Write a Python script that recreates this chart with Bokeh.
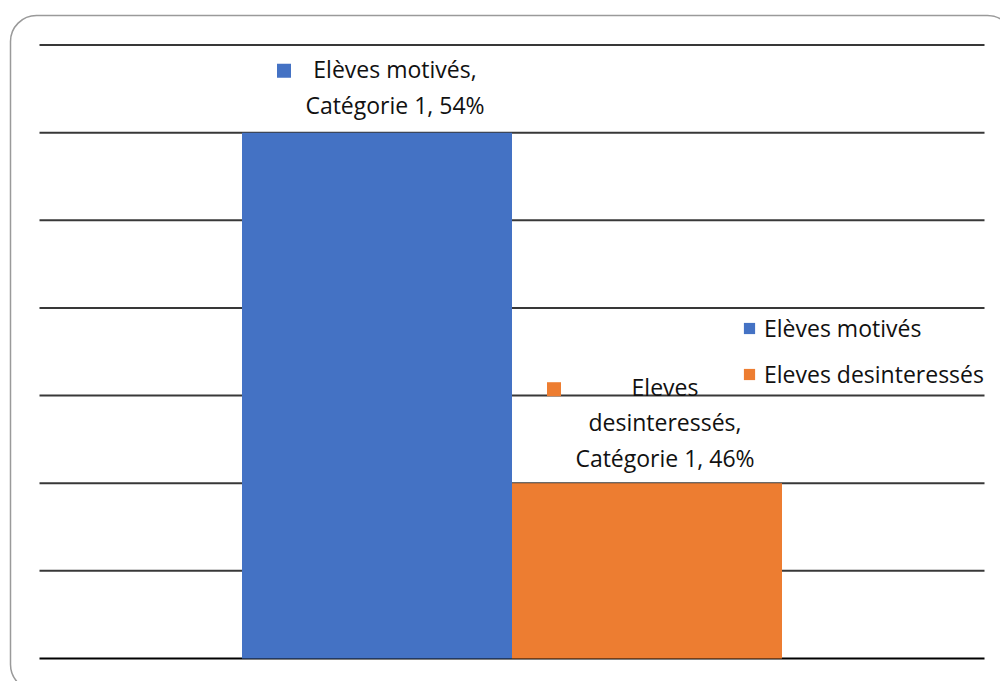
from bokeh.plotting import figure
from bokeh.models import (Range1d, Legend, LegendItem, ColumnDataSource, BoxAnnotation)
from bokeh.transform import dodge
from bokeh.core.properties import value
from bokeh.embed import file_html
from bokeh.resources import INLINE

# ---- data ----
categories = ["Catégorie 1"]
series_names = ["Elèves motivés", "Eleves desinteressés"]
motives = [54]          # %
desinteresses = [46]    # %
series_values = [motives, desinteresses]
series_colors = ["#4472C4", "#ED7D31"]
y_ticks = [42, 44, 46, 48, 50, 52, 54, 56]
label_texts = [["Elèves motivés,\nCatégorie 1, 54%"],
               ["Eleves\ndesinteressés,\nCatégorie 1, 46%"]]
cat_pos = list(range(len(categories)))

# ---- layout constants (pixels) ----
W, H = 1000, 681
PLOT_L, PLOT_R = 39, 984        # plot area left/right
PLOT_T, PLOT_B = 44.5, 658      # top / bottom gridline
band_px = (PLOT_R - PLOT_L) / len(categories)
x_start = cat_pos[0] - 0.5 - PLOT_L / band_px
x_end = cat_pos[-1] + 0.5 + (W - PLOT_R) / band_px
ppu = (PLOT_B - PLOT_T) / (y_ticks[-1] - y_ticks[0])
y_end = y_ticks[-1] + PLOT_T / ppu
y_start = y_ticks[0] - (H - PLOT_B) / ppu


def xpx(px):
    return x_start + px * (x_end - x_start) / W


def ypx(py):
    return y_end - py * (y_end - y_start) / H


FONT = "Open Sans"
FSIZE = "23px"
TXT = "#111111"

p = figure(width=W, height=H,
           x_range=Range1d(x_start, x_end), y_range=Range1d(y_start, y_end),
           output_backend="svg", toolbar_location=None,
           x_axis_location=None, y_axis_location=None,
           min_border=0)
p.outline_line_color = None
p.grid.visible = False

# horizontal gridlines across the category band
gsrc = ColumnDataSource(dict(y=y_ticks[1:]))
p.segment(x0=cat_pos[0] - 0.5, x1=cat_pos[-1] + 0.5, y0="y", y1="y",
          source=gsrc, line_color="#383838", line_width=2, level="underlay")
bsrc = ColumnDataSource(dict(y=y_ticks[:1]))
p.segment(x0=cat_pos[0] - 0.5, x1=cat_pos[-1] + 0.5, y0="y", y1="y",
          source=bsrc, line_color="#000000", line_width=2)

bar_w = 2 / 7
offsets = [-1 / 7, 1 / 7]
renderers = []
for i in range(2):
    src = ColumnDataSource(dict(x=cat_pos, val=series_values[i]))
    r = p.vbar(x=dodge("x", offsets[i]), top="val",
               bottom=y_ticks[0], width=bar_w, source=src,
               fill_color=series_colors[i], line_color=None)
    renderers.append(r)

# data labels
sq_dy_px = [62, 94]
txt_dy_px = [12, 9]
for i in range(2):
    src = ColumnDataSource(dict(x=cat_pos, val=series_values[i],
                                txt=label_texts[i],
                                sqy=[v + sq_dy_px[i] / ppu for v in series_values[i]]))
    p.text(x=dodge("x", offsets[i]), y="val", text="txt",
           source=src, x_offset=18, y_offset=-txt_dy_px[i],
           text_align="center", text_baseline="bottom",
           text_font=value(FONT), text_font_size=FSIZE, text_color=TXT,
           text_line_height=1.12)
    p.scatter(x=dodge("x", offsets[i] - 93 / band_px), y="sqy",
              source=src, marker="square", size=14,
              fill_color=series_colors[i], line_color=None)

legend = Legend(items=[LegendItem(label=series_names[i], renderers=[renderers[i]])
                       for i in range(2)],
                location=(742, 291), glyph_width=14, glyph_height=14,
                label_standoff=8, spacing=14, padding=0, margin=0,
                label_height=20, border_line_color=None,
                background_fill_alpha=0,
                label_text_font=FONT, label_text_font_size=FSIZE,
                label_text_color=TXT)
p.add_layout(legend)

# rounded chart-area border
border = BoxAnnotation(left=xpx(10), right=xpx(1013), top=ypx(15), bottom=ypx(690),
                       fill_alpha=0, line_color="#9a9a9a", line_alpha=1.0,
                       line_width=1.5, border_radius=26, level="overlay")
p.add_layout(border)

open("out.html", "w").write(file_html(p, INLINE))
